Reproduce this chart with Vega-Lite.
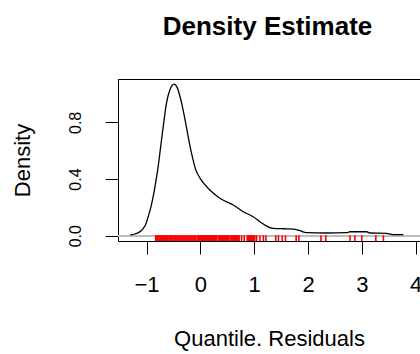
{
  "$schema": "https://vega.github.io/schema/vega-lite/v6.json",
  "width": 302,
  "height": 162,
  "autosize": {"type": "none"},
  "padding": {"left": 118, "top": 79, "right": 0, "bottom": 113},
  "background": "white",
  "config": {
    "view": {"stroke": null},
    "font": "Liberation Sans",
    "axis": {
      "grid": false,
      "domainColor": "black",
      "domainWidth": 1,
      "tickColor": "black",
      "tickWidth": 1,
      "tickSize": 13,
      "labelColor": "black",
      "titleColor": "black",
      "titleFontWeight": "normal",
      "labelFont": "Liberation Sans",
      "titleFont": "Liberation Sans",
      "labelOverlap": false,
      "labelBound": false,
      "labelFlush": false
    }
  },
  "title": {
    "text": "Density Estimate",
    "font": "Liberation Sans",
    "fontSize": 26,
    "fontWeight": "bold",
    "color": "black",
    "anchor": "middle",
    "baseline": "alphabetic",
    "offset": 18,
    "dx": -1.5
  },
  "datasets": {
    "density": [
      {"x": -1.30, "density": 0.005},
      {"x": -1.22, "density": 0.012},
      {"x": -1.16, "density": 0.020},
      {"x": -1.10, "density": 0.035},
      {"x": -1.06, "density": 0.052},
      {"x": -1.01, "density": 0.085},
      {"x": -0.97, "density": 0.134},
      {"x": -0.92, "density": 0.200},
      {"x": -0.877, "density": 0.275},
      {"x": -0.83, "density": 0.375},
      {"x": -0.784, "density": 0.487},
      {"x": -0.74, "density": 0.620},
      {"x": -0.69, "density": 0.770},
      {"x": -0.63, "density": 0.934},
      {"x": -0.567, "density": 1.028},
      {"x": -0.487, "density": 1.070},
      {"x": -0.43, "density": 1.045},
      {"x": -0.37, "density": 0.970},
      {"x": -0.32, "density": 0.887},
      {"x": -0.27, "density": 0.790},
      {"x": -0.227, "density": 0.699},
      {"x": -0.18, "density": 0.610},
      {"x": -0.134, "density": 0.534},
      {"x": -0.09, "density": 0.470},
      {"x": -0.04, "density": 0.428},
      {"x": 0.052, "density": 0.374},
      {"x": 0.177, "density": 0.322},
      {"x": 0.362, "density": 0.264},
      {"x": 0.61, "density": 0.217},
      {"x": 0.796, "density": 0.169},
      {"x": 0.98, "density": 0.134},
      {"x": 1.106, "density": 0.099},
      {"x": 1.23, "density": 0.068},
      {"x": 1.353, "density": 0.052},
      {"x": 1.54, "density": 0.049},
      {"x": 1.725, "density": 0.047},
      {"x": 1.85, "density": 0.035},
      {"x": 1.97, "density": 0.021},
      {"x": 2.35, "density": 0.019},
      {"x": 2.72, "density": 0.021},
      {"x": 2.78, "density": 0.028},
      {"x": 3.09, "density": 0.028},
      {"x": 3.15, "density": 0.019},
      {"x": 3.46, "density": 0.017},
      {"x": 3.55, "density": 0.010},
      {"x": 3.77, "density": 0.007}
    ],
    "residuals": [
      {"r": -0.83}, {"r": -0.81}, {"r": -0.79}, {"r": -0.77}, {"r": -0.755}, {"r": -0.735},
      {"r": -0.715}, {"r": -0.70}, {"r": -0.68}, {"r": -0.66}, {"r": -0.64}, {"r": -0.625},
      {"r": -0.605}, {"r": -0.585}, {"r": -0.565}, {"r": -0.55}, {"r": -0.53}, {"r": -0.51},
      {"r": -0.49}, {"r": -0.475}, {"r": -0.455}, {"r": -0.435}, {"r": -0.415}, {"r": -0.40},
      {"r": -0.38}, {"r": -0.36}, {"r": -0.34}, {"r": -0.325}, {"r": -0.305}, {"r": -0.285},
      {"r": -0.265}, {"r": -0.25}, {"r": -0.23}, {"r": -0.21}, {"r": -0.19}, {"r": -0.175},
      {"r": -0.155}, {"r": -0.135}, {"r": -0.115}, {"r": -0.09},
      {"r": -0.06}, {"r": -0.04}, {"r": -0.02}, {"r": 0.0}, {"r": 0.02}, {"r": 0.04},
      {"r": 0.055}, {"r": 0.075}, {"r": 0.095}, {"r": 0.115}, {"r": 0.13}, {"r": 0.15},
      {"r": 0.17}, {"r": 0.19}, {"r": 0.21}, {"r": 0.225}, {"r": 0.245}, {"r": 0.265},
      {"r": 0.28}, {"r": 0.30},
      {"r": 0.33}, {"r": 0.35}, {"r": 0.37}, {"r": 0.39}, {"r": 0.41}, {"r": 0.43},
      {"r": 0.45}, {"r": 0.47}, {"r": 0.49}, {"r": 0.505}, {"r": 0.52},
      {"r": 0.55}, {"r": 0.57}, {"r": 0.59}, {"r": 0.61}, {"r": 0.63}, {"r": 0.65},
      {"r": 0.67}, {"r": 0.69}, {"r": 0.705}, {"r": 0.72},
      {"r": 0.765}, {"r": 0.815},
      {"r": 0.87}, {"r": 0.89}, {"r": 0.91}, {"r": 0.93}, {"r": 0.95}, {"r": 0.97},
      {"r": 0.99}, {"r": 1.01},
      {"r": 1.045}, {"r": 1.106}, {"r": 1.17}, {"r": 1.217},
      {"r": 1.40}, {"r": 1.45}, {"r": 1.52}, {"r": 1.58}, {"r": 1.78}, {"r": 1.83},
      {"r": 2.24}, {"r": 2.33}, {"r": 2.78}, {"r": 2.87}, {"r": 3.00}, {"r": 3.26},
      {"r": 3.40}
    ]
  },
  "layer": [
    {
      "data": {"name": "density"},
      "mark": {"type": "rule", "color": "#bebebe", "strokeWidth": 1.5, "clip": true},
      "encoding": {
        "y": {"datum": 0, "type": "quantitative", "title": "Density"}
      }
    },
    {
      "data": {"name": "density"},
      "mark": {"type": "line", "color": "black", "strokeWidth": 1.3, "interpolate": "monotone", "clip": true},
      "encoding": {
        "x": {
          "field": "x",
          "type": "quantitative",
          "title": "Quantile. Residuals",
          "scale": {"domain": [-1.53, 4.08], "nice": false, "zero": false},
          "axis": {
            "values": [-1, 0, 1, 2, 3, 4],
            "format": "d",
            "labelFontSize": 22,
            "labelPadding": 20,
            "titleFontSize": 22,
            "titlePadding": 33
          }
        },
        "y": {
          "field": "density",
          "type": "quantitative",
          "title": "Density",
          "scale": {"domain": [-0.0374, 1.1059], "nice": false, "zero": false},
          "axis": {
            "values": [0, 0.2, 0.4, 0.6, 0.8, 1.0],
            "labelExpr": "round(datum.value * 10) % 4 == 0 ? format(datum.value, '.1f') : ''",
            "labelFontSize": 16,
            "labelAngle": 270,
            "labelAlign": "center",
            "labelBaseline": "bottom",
            "labelPadding": 22,
            "titleFontSize": 22,
            "titlePadding": 33
          }
        }
      }
    },
    {
      "data": {"name": "residuals"},
      "mark": {"type": "rule", "color": "#ff0000", "strokeWidth": 1.6, "clip": true},
      "encoding": {
        "x": {"field": "r", "type": "quantitative", "title": "Quantile. Residuals"},
        "y": {"datum": -0.0374, "type": "quantitative", "title": "Density"},
        "y2": {"datum": 0.004}
      }
    },
    {
      "data": {"name": "density"},
      "mark": {"type": "rule", "color": "black", "strokeWidth": 1, "yOffset": 0.5},
      "encoding": {
        "y": {"datum": 1.1059, "type": "quantitative", "title": "Density"}
      }
    }
  ]
}
